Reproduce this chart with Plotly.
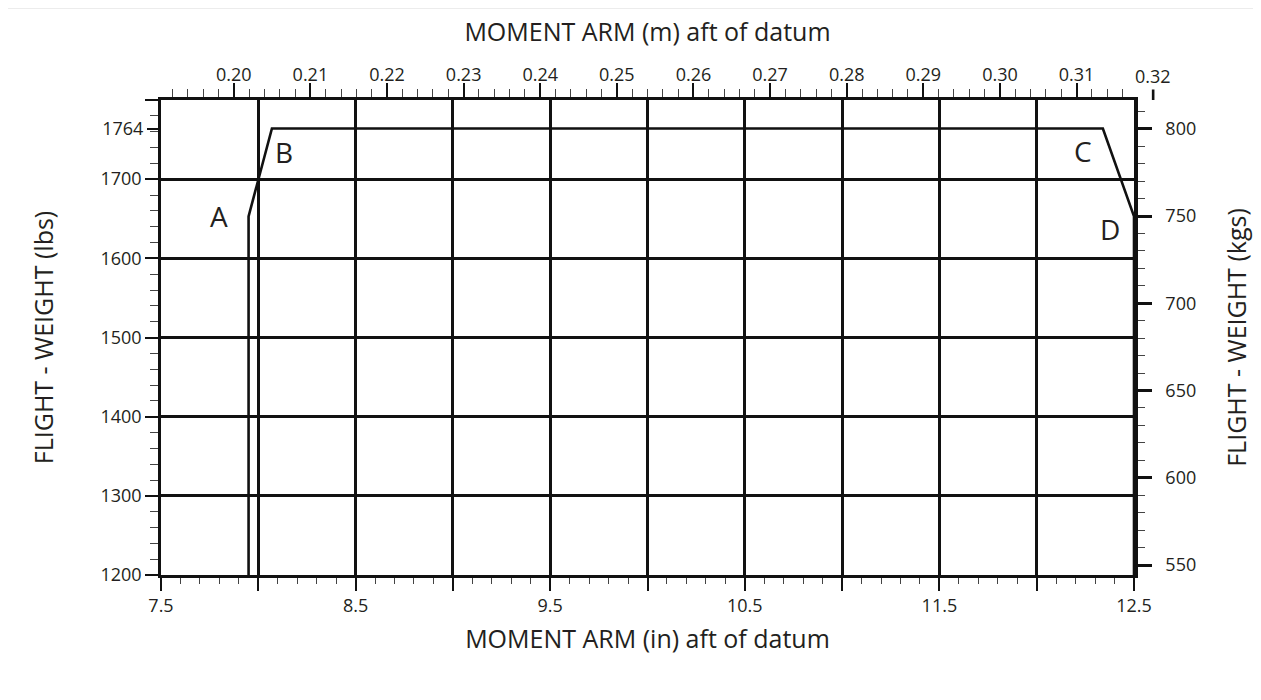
import plotly.graph_objects as go

# ---------------- data ----------------
LB_PER_KG = 2.20462
M_PER_IN = 0.0254

envelope_arm_in = [7.95, 7.95, 8.07, 12.34, 12.5, 12.5]
envelope_weight_lbs = [1200, 1653, 1764, 1764, 1653, 1200]

point_names = ["A", "B", "C", "D"]
point_index = [1, 2, 3, 4]          # vertex of the envelope each letter marks
label_dx = [-30, 12, -20, -24]      # pixel offsets of the letters
label_dy = [0, -23, -22, -13]

x_in_ticks = [7.5, 8.0, 8.5, 9.0, 9.5, 10.0, 10.5, 11.0, 11.5, 12.0, 12.5]
x_in_text = ["7.5", "", "8.5", "", "9.5", "", "10.5", "", "11.5", "", "12.5"]
y_lbs_grid = [1200, 1300, 1400, 1500, 1600, 1700, 1800]
y_lbs_text = ["1200", "1300", "1400", "1500", "1600", "1700", ""]
y_lbs_extra = [1764]
y_kg_ticks = [550, 600, 650, 700, 750, 800]
x_m_extra_label = 0.32

x_range_in = [7.5, 12.5]
y_range_lbs = [1200, 1800]

# ---------------- style ----------------
FONT = "Open Sans"
TXT = "#231f20"
INK = "#111111"

W, H = 1253, 692
ML, MR, MT, MB = 153, 127, 92, 125

fig = go.Figure()

fig.add_trace(go.Scatter(
    x=envelope_arm_in, y=envelope_weight_lbs, mode="lines",
    line=dict(color=INK, width=2.6), hoverinfo="skip", showlegend=False,
    xaxis="x", yaxis="y", cliponaxis=False))

# invisible traces so that the secondary axes are drawn
fig.add_trace(go.Scatter(
    x=[v * M_PER_IN for v in x_range_in], y=[v / LB_PER_KG for v in y_range_lbs],
    mode="markers", marker=dict(opacity=0), hoverinfo="skip", showlegend=False,
    xaxis="x2", yaxis="y2"))
fig.add_trace(go.Scatter(
    x=x_range_in, y=y_range_lbs, mode="markers", marker=dict(opacity=0),
    hoverinfo="skip", showlegend=False, xaxis="x", yaxis="y3"))

tickfont = dict(family=FONT, size=18, color=TXT)
titlefont = dict(family=FONT, size=25, color=TXT)

fig.update_layout(
    width=W, height=H,
    margin=dict(l=ML, r=MR, t=MT, b=MB, autoexpand=False),
    paper_bgcolor="white", plot_bgcolor="white",
    showlegend=False,
    xaxis=dict(
        range=x_range_in, tickmode="array", tickvals=x_in_ticks, ticktext=x_in_text,
        ticks="outside", ticklen=13, tickwidth=2.2, tickcolor=INK,
        minor=dict(dtick=0.1, tick0=7.5, ticks="outside", ticklen=6, tickwidth=1.2,
                   tickcolor="#444", showgrid=False),
        showgrid=True, gridcolor=INK, gridwidth=2.6,
        showline=True, linecolor=INK, linewidth=2.6,
        zeroline=False, tickfont=tickfont, automargin=False,
        title=dict(text="MOMENT ARM (in) aft of datum", font=titlefont, standoff=15),
    ),
    xaxis2=dict(
        overlaying="x", side="top", anchor="y",
        range=[v * M_PER_IN for v in x_range_in],
        tick0=0.20, dtick=0.01, tickformat=".2f",
        ticks="outside", ticklen=14, tickwidth=2.4, tickcolor=INK,
        ticklabelstandoff=-5,
        minor=dict(dtick=0.002, tick0=0.20, ticks="outside", ticklen=8, tickwidth=1.2,
                   tickcolor="#444", showgrid=False),
        showgrid=False, showline=True, linecolor=INK, linewidth=2.6,
        zeroline=False, tickfont=tickfont, automargin=False,
        title=dict(text="MOMENT ARM (m) aft of datum", font=titlefont, standoff=14),
    ),
    yaxis=dict(
        range=y_range_lbs, tickmode="array", tickvals=y_lbs_grid, ticktext=y_lbs_text,
        ticks="outside", ticklen=13, tickwidth=2.2, tickcolor=INK,
        minor=dict(dtick=20, tick0=1200, ticks="outside", ticklen=8, tickwidth=1.2,
                   tickcolor="#444", showgrid=False),
        showgrid=True, gridcolor=INK, gridwidth=2.6,
        showline=True, linecolor=INK, linewidth=2.6,
        zeroline=False, tickfont=tickfont, automargin=False,
        title=dict(text="FLIGHT - WEIGHT (lbs)", font=titlefont, standoff=40),
    ),
    yaxis3=dict(
        overlaying="y", side="left", anchor="x",
        range=y_range_lbs, tickmode="array", tickvals=y_lbs_extra,
        ticktext=[str(v) for v in y_lbs_extra],
        ticks="outside", ticklen=13, tickwidth=2.2, tickcolor=INK,
        showgrid=False, showline=False, zeroline=False, tickfont=tickfont,
        automargin=False,
    ),
    yaxis2=dict(
        overlaying="y", side="right", anchor="x",
        range=[v / LB_PER_KG for v in y_range_lbs],
        tickmode="array", tickvals=y_kg_ticks,
        ticks="outside", ticklen=14, tickwidth=2.6, tickcolor=INK,
        ticklabelstandoff=10,
        minor=dict(dtick=10, tick0=550, ticks="outside", ticklen=7, tickwidth=1.2,
                   tickcolor="#444", showgrid=False),
        showgrid=False, showline=True, linecolor=INK, linewidth=3.5,
        zeroline=False, tickfont=tickfont, automargin=False,
        title=dict(text="FLIGHT - WEIGHT (kgs)", font=titlefont, standoff=34),
    ),
)

# letters at the envelope corners
for name, idx, dx, dy in zip(point_names, point_index, label_dx, label_dy):
    fig.add_annotation(
        x=envelope_arm_in[idx], y=envelope_weight_lbs[idx], xref="x", yref="y",
        text=name, showarrow=False, xshift=dx, yshift=dy,
        font=dict(family=FONT, size=28, color=TXT))

# top-axis label that lies just beyond the plotted range (0.32 m)
frac_032 = (x_m_extra_label / M_PER_IN - x_range_in[0]) / (x_range_in[1] - x_range_in[0])
fig.add_annotation(
    x=frac_032, y=1, xref="paper", yref="paper",
    text=f"{x_m_extra_label:.2f}", showarrow=True, arrowhead=0, arrowwidth=2.6,
    arrowcolor=INK, ax=0, ay=-24, standoff=0,
    font=tickfont)

# faint frame line along the top of the image
plot_w = W - ML - MR
plot_h = H - MT - MB
fig.add_shape(type="line", xref="paper", yref="paper",
              x0=-ML / plot_w, x1=(W - ML) / plot_w,
              y0=(H - MB) / plot_h, y1=(H - MB) / plot_h,
              line=dict(color="#d9d9d9", width=1))

fig.write_html("out.html")
